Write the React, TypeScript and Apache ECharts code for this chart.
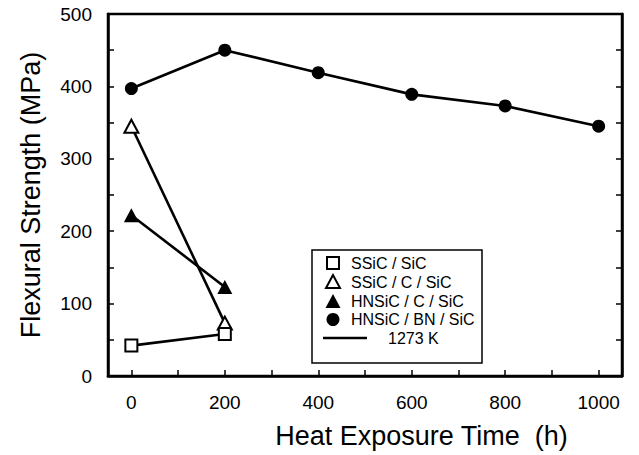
import React, { useEffect, useRef } from "react";
import * as echarts from "echarts";

const timeShort = [0, 200];
const timeLong = [0, 200, 400, 600, 800, 1000];
const ssicSic = [42, 58];
const ssicCSic = [345, 73];
const hnsicCSic = [222, 123];
const hnsicBnSic = [397, 450, 419, 389, 373, 345];

const xTickValues = [0, 100, 200, 300, 400, 500, 600, 700, 800, 900, 1000];
const xLabelValues = [0, 200, 400, 600, 800, 1000];
const yLabelValues = [0, 100, 200, 300, 400, 500];

const seriesNames = ["SSiC / SiC", "SSiC / C / SiC", "HNSiC / C / SiC", "HNSiC / BN / SiC"];
const tempLabel = "1273 K";

const FONT = "'Liberation Sans', Arial, Helvetica, sans-serif";

function pairs(xs: number[], ys: number[]) {
  return xs.map((x, i) => [x, ys[i]]);
}

export default function App() {
  const ref = useRef<HTMLDivElement>(null);
  useEffect(() => {
    if (!ref.current) return;
    const chart = echarts.init(ref.current, null, { renderer: "svg" });
    const lineStyle = { color: "#000", width: 2.6 };
    const legendRows = [263, 282, 301, 319.5];
    const lx = 333;
    const textX = 351;
    chart.setOption({
      animation: false,
      backgroundColor: "#fff",
      grid: {
        left: 108,
        right: 17,
        top: 14,
        bottom: 79,
        show: true,
        borderColor: "#000",
        borderWidth: 2.5,
        backgroundColor: "transparent",
      },
      xAxis: {
        type: "value",
        min: -50,
        max: 1050,
        axisLine: { show: true, onZero: false, lineStyle: { color: "#000", width: 2.5 } },
        axisTick: {
          show: true,
          inside: true,
          length: 6,
          customValues: xTickValues,
          lineStyle: { color: "#000", width: 1.5 },
        },
        axisLabel: {
          customValues: xLabelValues,
          formatter: (v: number) => String(v),
          fontSize: 19,
          color: "#000",
          margin: 17,
          fontFamily: FONT,
        },
        splitLine: { show: false },
        name: "Heat Exposure Time  (h)",
        nameLocation: "middle",
        nameGap: 46,
        nameTextStyle: {
          fontSize: 27,
          color: "#000",
          fontFamily: FONT,
          padding: [0, 0, 0, 113],
        },
      },
      yAxis: [
        {
          type: "value",
          min: 0,
          max: 500,
          interval: 50,
          position: "left",
          axisLine: { show: true, onZero: false, lineStyle: { color: "#000", width: 2.5 } },
          axisTick: {
            show: true,
            inside: true,
            length: 6,
            lineStyle: { color: "#000", width: 1.5 },
          },
          axisLabel: {
            customValues: yLabelValues,
            formatter: (v: number) => String(v),
            fontSize: 19,
            color: "#000",
            margin: 16,
            fontFamily: FONT,
          },
          splitLine: { show: false },
          name: "Flexural Strength (MPa)",
          nameLocation: "middle",
          nameGap: 64,
          nameTextStyle: { fontSize: 27, color: "#000", fontFamily: FONT },
        },
        {
          type: "value",
          min: 0,
          max: 500,
          interval: 50,
          position: "right",
          axisLine: { show: true, onZero: false, lineStyle: { color: "#000", width: 2.5 } },
          axisTick: {
            show: true,
            inside: true,
            length: 6,
            lineStyle: { color: "#000", width: 1.5 },
          },
          axisLabel: { show: false },
          splitLine: { show: false },
        },
      ],
      series: [
        {
          name: seriesNames[1],
          type: "line",
          data: pairs(timeShort, ssicCSic),
          symbol: "triangle",
          symbolSize: [14, 13],
          lineStyle,
          itemStyle: { color: "#fff", borderColor: "#000", borderWidth: 2 },
          z: 2,
        },
        {
          name: seriesNames[2],
          type: "line",
          data: pairs(timeShort, hnsicCSic),
          symbol: "triangle",
          symbolSize: [15, 14],
          lineStyle,
          itemStyle: { color: "#000", borderColor: "#000", borderWidth: 0 },
          z: 3,
        },
        {
          name: seriesNames[0],
          type: "line",
          data: pairs(timeShort, ssicSic),
          symbol: "rect",
          symbolSize: 12,
          lineStyle,
          itemStyle: { color: "#fff", borderColor: "#000", borderWidth: 2 },
          z: 4,
        },
        {
          name: seriesNames[3],
          type: "line",
          data: pairs(timeLong, hnsicBnSic),
          symbol: "circle",
          symbolSize: 13,
          lineStyle,
          itemStyle: { color: "#000", borderColor: "#000", borderWidth: 0 },
          z: 5,
        },
      ],
      graphic: [
        {
          type: "rect",
          shape: { x: 312, y: 250, width: 170, height: 113 },
          style: { fill: "#fff", stroke: "#000", lineWidth: 1.5 },
          z: 100,
        },
        {
          type: "rect",
          shape: { x: lx - 6, y: legendRows[0] - 6, width: 12, height: 12 },
          style: { fill: "#fff", stroke: "#000", lineWidth: 2 },
          z: 101,
        },
        {
          type: "polygon",
          shape: {
            points: [
              [lx, legendRows[1] - 7],
              [lx - 7, legendRows[1] + 6],
              [lx + 7, legendRows[1] + 6],
            ],
          },
          style: { fill: "#fff", stroke: "#000", lineWidth: 2 },
          z: 101,
        },
        {
          type: "polygon",
          shape: {
            points: [
              [lx, legendRows[2] - 7],
              [lx - 7.5, legendRows[2] + 7],
              [lx + 7.5, legendRows[2] + 7],
            ],
          },
          style: { fill: "#000" },
          z: 101,
        },
        {
          type: "circle",
          shape: { cx: lx, cy: legendRows[3], r: 6.5 },
          style: { fill: "#000" },
          z: 101,
        },
        {
          type: "line",
          shape: { x1: 323, y1: 338, x2: 367, y2: 338 },
          style: { stroke: "#000", lineWidth: 2.5 },
          z: 101,
        },
        ...seriesNames.map((n, i) => ({
          type: "text",
          x: textX,
          y: legendRows[i],
          style: {
            text: n,
            fill: "#000",
            font: `16px ${FONT}`,
            verticalAlign: "middle",
            align: "left",
          },
          z: 101,
        })),
        {
          type: "text",
          x: 388,
          y: 338,
          style: {
            text: tempLabel,
            fill: "#000",
            font: `16px ${FONT}`,
            verticalAlign: "middle",
            align: "left",
          },
          z: 101,
        },
      ],
    });
    return () => chart.dispose();
  }, []);
  return (
    <div
      ref={ref}
      style={{ position: "absolute", left: 0, top: 0, width: 639, height: 455 }}
    />
  );
}
